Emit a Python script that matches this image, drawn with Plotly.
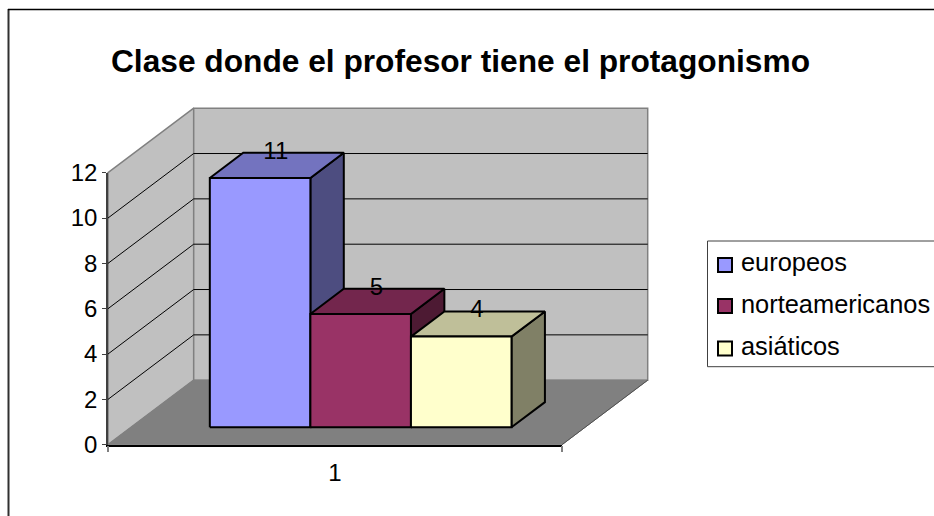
import plotly.graph_objects as go

# ---- data ----
TITLE = "Clase donde el profesor tiene el protagonismo"
CATEGORY = ["1"]
SERIES = ["europeos", "norteamericanos", "asiáticos"]
VALUES = [11, 5, 4]
Y_TICKS = [0, 2, 4, 6, 8, 10, 12]

# ---- styles ----
FRONT = ["#9999FF", "#993366", "#FFFFCC"]
TOP = ["#7373BF", "#73264D", "#BFBF99"]
SIDE = ["#4D4D80", "#4D1A33", "#808066"]
WALL, FLOOR, EDGE = "#C0C0C0", "#808080", "#808080"
FONT = "Liberation Sans, Arial, sans-serif"
W, H = 934, 516

# ---- oblique projection (plane: category 0..1, value 0..12, depth 0..1) ----
PX0, PX1 = 108.0, 562.0
PY0, PY12 = 444.7, 172.7
UX = PX1 - PX0
UY = (PY0 - PY12) / 12
DX = 85.7 / UX
DY = 64.5 / UY
YMAX = Y_TICKS[-1]


def proj(c, v, d):
    return c + d * DX, v + d * DY


def poly(pts, fill, line=None, lw=1.0):
    xs, ys = zip(*[proj(*p) for p in pts + pts[:1]])
    return go.Scatter(x=xs, y=ys, mode="lines", fill="toself", fillcolor=fill,
                      line=dict(color=line or fill, width=lw), hoverinfo="skip",
                      showlegend=False)


fig = go.Figure()

# walls and floor
fig.add_trace(poly([(0, 0, 0), (0, YMAX, 0), (0, YMAX, 1), (0, 0, 1)], WALL, EDGE, 1.5))
fig.add_trace(poly([(0, 0, 1), (0, YMAX, 1), (1, YMAX, 1), (1, 0, 1)], WALL, EDGE, 1.5))
fig.add_trace(poly([(0, 0, 0), (0, 0, 1), (1, 0, 1), (1, 0, 0)], FLOOR, FLOOR, 1))

# floor right edge
ex, ey = zip(proj(1, 0, 0), proj(1, 0, 1))
fig.add_trace(go.Scatter(x=ex, y=ey, mode="lines", line=dict(color="#505050", width=1),
                         hoverinfo="skip", showlegend=False))

# gridlines
gx, gy = [], []
for t in Y_TICKS[1:-1]:
    for p in [(0, t, 0), (0, t, 1), (1, t, 1)]:
        a, b = proj(*p)
        gx.append(a)
        gy.append(b)
    gx.append(None)
    gy.append(None)
fig.add_trace(go.Scatter(x=gx, y=gy, mode="lines", line=dict(color="#000000", width=1),
                         hoverinfo="skip", showlegend=False))

# bars
C0, BW = 0.1733, 0.2215
D0, DD = 0.27, 0.39
lab_x, lab_y = [], []
for i, val in enumerate(VALUES):
    a, b = C0 + i * BW, C0 + (i + 1) * BW
    d1 = D0 + DD
    fig.add_trace(poly([(b, 0, D0), (b, val, D0), (b, val, d1), (b, 0, d1)], SIDE[i], "#000000", 2))
    fig.add_trace(poly([(a, val, D0), (a, val, d1), (b, val, d1), (b, val, D0)], TOP[i], "#000000", 2))
    fig.add_trace(poly([(a, 0, D0), (a, val, D0), (b, val, D0), (b, 0, D0)], FRONT[i], "#000000", 2))
    lab_x.append((a + b) / 2 + (D0 + DD / 2) * DX - 1 / UX)
    lab_y.append(val + d1 * DY)

fig.add_trace(go.Scatter(x=lab_x, y=lab_y, mode="text", text=[str(v) for v in VALUES],
                         textposition="middle center",
                         textfont=dict(family=FONT, size=24, color="#000000"),
                         hoverinfo="skip", showlegend=False))

# tick axes on the front plane
fig.add_trace(go.Scatter(x=[0, 1], y=[0, YMAX], xaxis="x2", yaxis="y2", mode="markers",
                         marker=dict(opacity=0), hoverinfo="skip", showlegend=False))

shapes = [
    # outer frame
    dict(type="line", xref="paper", yref="paper", x0=8.5 / W, x1=8.5 / W, y0=0, y1=1 - 9 / H,
         line=dict(color="#303030", width=2)),
    dict(type="line", xref="paper", yref="paper", x0=8 / W, x1=1, y0=1 - 9.5 / H, y1=1 - 9.5 / H,
         line=dict(color="#000000", width=1.5)),
    # legend box
    dict(type="rect", xref="paper", yref="paper", x0=707.5 / W, x1=1.01, y0=1 - 241 / H, y1=1 - 366.7 / H,
         line=dict(color="#404040", width=1), fillcolor="#FFFFFF"),
]
annotations = []
LEG_MARK_Y = [265, 306, 348.5]
LEG_TEXT_Y = [262, 304, 346]
for i, name in enumerate(SERIES):
    shapes.append(dict(type="rect", xref="paper", yref="paper", x0=718 / W, x1=732 / W,
                       y0=1 - (LEG_MARK_Y[i] - 7) / H, y1=1 - (LEG_MARK_Y[i] + 7) / H,
                       line=dict(color="#000000", width=2), fillcolor=FRONT[i]))
    annotations.append(dict(xref="paper", yref="paper", x=741 / W, y=1 - LEG_TEXT_Y[i] / H,
                            xanchor="left", yanchor="middle", showarrow=False, text=name,
                            xshift=-2, font=dict(family=FONT, size=25.4, color="#000000")))

fig.update_layout(
    width=W, height=H,
    margin=dict(l=0, r=0, t=0, b=0, autoexpand=False),
    paper_bgcolor="#FFFFFF", plot_bgcolor="rgba(0,0,0,0)",
    showlegend=False,
    title=dict(text=TITLE, x=460.5 / W, xref="paper", xanchor="center", y=1 - 61 / H,
               yref="paper", yanchor="middle",
               font=dict(family=FONT, size=31.7, color="#000000", weight="bold")),
    xaxis=dict(range=[(0 - PX0) / UX, (W - PX0) / UX], visible=False, domain=[0, 1], fixedrange=True),
    yaxis=dict(range=[(PY0 - H) / UY, PY0 / UY], visible=False, domain=[0, 1], fixedrange=True),
    xaxis2=dict(anchor="y2", domain=[PX0 / W, PX1 / W], range=[0, 1],
                showline=True, linecolor="#000000", linewidth=1.5, showgrid=False, zeroline=False,
                tickvals=[0.5], ticktext=CATEGORY, ticks="outside", ticklen=0,
                ticklabelstandoff=6, tickfont=dict(family=FONT, size=24, color="#000000"),
                minor=dict(tickvals=[0, 1], ticks="outside", ticklen=6, tickcolor="#808080", tickwidth=1.5,
                           showgrid=False), fixedrange=True),
    yaxis2=dict(anchor="x2", domain=[1 - PY0 / H, 1 - PY12 / H], range=[0, YMAX],
                showline=True, linecolor="#404040", linewidth=1.5, showgrid=False, zeroline=False,
                tickvals=Y_TICKS, ticks="outside", ticklen=4, tickcolor="#404040", tickwidth=1,
                ticklabelstandoff=0, tickfont=dict(family=FONT, size=24, color="#000000"),
                fixedrange=True),
    shapes=shapes, annotations=annotations,
)

fig.write_html("out.html", config={"displayModeBar": False},
               post_script="document.body.style.margin='0';document.documentElement.style.overflow='hidden';")
